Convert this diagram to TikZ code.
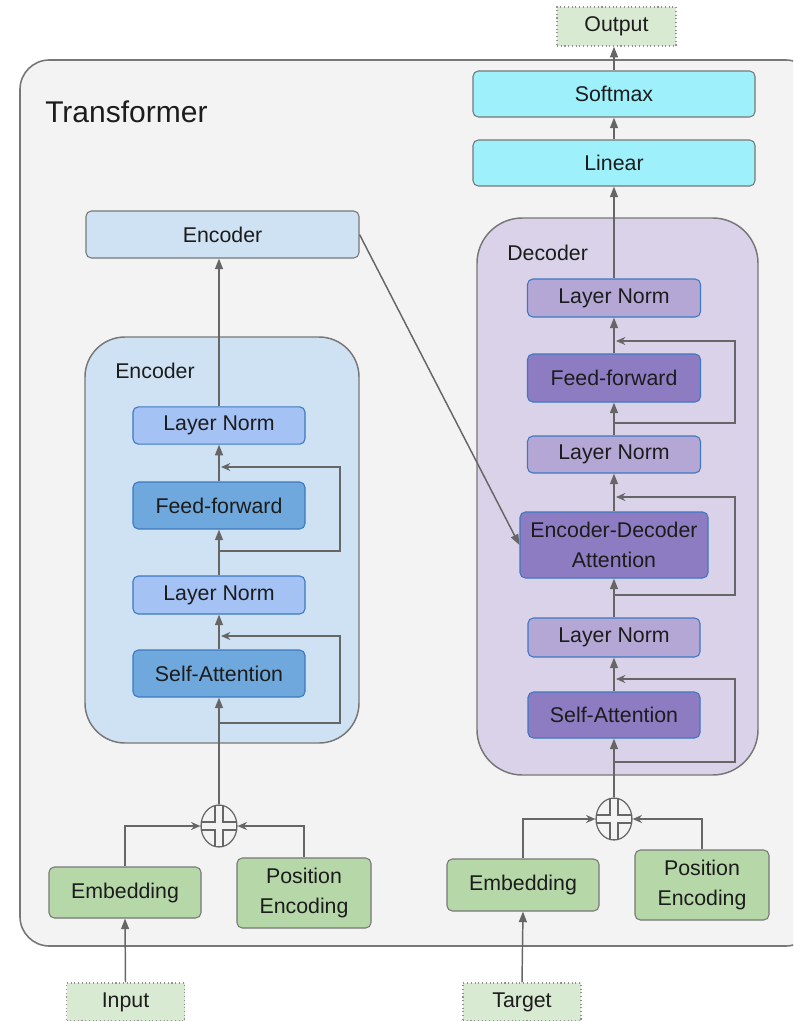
\documentclass[tikz,border=0pt]{standalone}
\usepackage{fontspec}
\setmainfont{Liberation Sans}
\usetikzlibrary{arrows.meta,calc,shapes.geometric}
\definecolor{bgl}{HTML}{F3F3F3}
\definecolor{frame}{HTML}{777777}
\definecolor{arrc}{HTML}{666666}
\definecolor{txt}{HTML}{1C1C1C}
\definecolor{blue3}{HTML}{CFE2F3}
\definecolor{blue2}{HTML}{A4C2F4}
\definecolor{blue1}{HTML}{6FA8DC}
\definecolor{lborder}{HTML}{3D78C0}
\definecolor{purp3}{HTML}{D9D2E9}
\definecolor{purp2}{HTML}{B4A7D6}
\definecolor{purp1}{HTML}{8E7CC3}
\definecolor{cyanl}{HTML}{9EF1FA}
\definecolor{green2}{HTML}{B6D7A8}
\definecolor{green3}{HTML}{D9EAD3}
\begin{document}
\begin{tikzpicture}[x=0.75pt,y=-0.75pt,
  box/.style={rounded corners=4pt, inner sep=0pt, align=center, text=txt,
    font=\fontsize{16}{23}\selectfont, line width=0.8pt},
  graybox/.style={box, draw=frame},
  layerbox/.style={box, draw=lborder},
  dotbox/.style={box, rounded corners=0pt, draw=frame!80, dotted, line width=1pt, fill=green3},
  arr/.style={draw=arrc, line width=1.1pt, -{Triangle[length=8pt,width=6pt]}},
  arrs/.style={draw=arrc, line width=1.1pt, -{Stealth[length=7pt,width=6pt]}},
  plusc/.style={ellipse, draw=arrc, line width=0.9pt, minimum width=27pt, minimum height=31.5pt, inner sep=0pt},
  label/.style={text=txt, inner sep=0pt, font=\fontsize{16}{19}\selectfont}
]
\useasboundingbox (0,0) rectangle (793,1021);
\clip (0,0) rectangle (793,1021);

% outer transformer frame
\draw[frame, line width=1.2pt, fill=bgl, rounded corners=22pt] (20,60) rectangle (815,946);
\node[text=txt, inner sep=0pt, anchor=base west, font=\fontsize{22.5}{26}\selectfont] (title) at (45,122) {Transformer};

% encoder container
\draw[frame, line width=1.1pt, fill=blue3, rounded corners=30pt] (85,337) rectangle (359,743);
\node[label, anchor=base west] (enclab) at (115,378) {Encoder};

% decoder container
\draw[frame, line width=1.1pt, fill=purp3, rounded corners=34pt] (477,218) rectangle (758,775);
\node[label, anchor=base west] (declab) at (507,260) {Decoder};

% top encoder box
\node[graybox, fill=blue3, minimum width=204.75pt, minimum height=35.25pt] (encbox) at (222.5,234.5) {Encoder};

% encoder layers
\node[layerbox, fill=blue2, minimum width=129pt, minimum height=28pt] (eln1) at (219,425.5) {Layer Norm};
\node[layerbox, fill=blue1, minimum width=129pt, minimum height=35.25pt] (eff) at (219,505.5) {Feed-forward};
\node[layerbox, fill=blue2, minimum width=129pt, minimum height=28.5pt] (eln2) at (219,595) {Layer Norm};
\node[layerbox, fill=blue1, minimum width=129pt, minimum height=35.25pt] (esa) at (219,673.5) {Self-Attention};

% decoder side
\node[dotbox, minimum width=89.25pt, minimum height=29.25pt] (out) at (616.5,26.5) {Output};
\node[graybox, fill=cyanl, minimum width=211.5pt, minimum height=34.5pt] (soft) at (614,94) {Softmax};
\node[graybox, fill=cyanl, minimum width=211.5pt, minimum height=34.5pt] (lin) at (614,163) {Linear};

\node[layerbox, fill=purp2, minimum width=129.75pt, minimum height=28.5pt] (dln1) at (614,298) {Layer Norm};
\node[layerbox, fill=purp1, minimum width=129.75pt, minimum height=36pt] (dff) at (614,378) {Feed-forward};
\node[layerbox, fill=purp2, minimum width=129.75pt, minimum height=27.75pt] (dln2) at (614,454.5) {Layer Norm};
\node[layerbox, fill=purp1, minimum width=141pt, minimum height=49.5pt] (eda) at (614,545) {Encoder-Decoder\\Attention};
\node[layerbox, fill=purp2, minimum width=129pt, minimum height=29.25pt] (dln3) at (614,637.5) {Layer Norm};
\node[layerbox, fill=purp1, minimum width=129pt, minimum height=34.5pt] (dsa) at (614,715) {Self-Attention};

% inputs
\node[graybox, fill=green2, minimum width=114pt, minimum height=38.25pt] (eemb) at (125,892.5) {Embedding};
\node[graybox, fill=green2, minimum width=100.5pt, minimum height=52.5pt] (epe) at (304,893) {Position\\Encoding};
\node[dotbox, minimum width=88.5pt, minimum height=28.5pt] (inp) at (125.5,1002) {Input};

\node[graybox, fill=green2, minimum width=114pt, minimum height=39pt] (demb) at (523,885) {Embedding};
\node[graybox, fill=green2, minimum width=100.5pt, minimum height=52.5pt] (dpe) at (702,885) {Position\\Encoding};
\node[dotbox, minimum width=88.5pt, minimum height=28.5pt] (tgt) at (522,1002) {Target};

% plus circles
\node[plusc] (eplus) at (219,826) {};
\node[plusc] (dplus) at (614,819) {};
\foreach \c in {eplus,dplus}{
  \begin{scope}[shift={(\c.center)}]
    \draw[arrc, line width=0.8pt] (4,-20.5) -- (4,-4) -- (17.7,-4) -- (17.7,4) -- (4,4) -- (4,20.5)
      -- (-4,20.5) -- (-4,4) -- (-17.7,4) -- (-17.7,-4) -- (-4,-4) -- (-4,-20.5) -- cycle;
  \end{scope}
}

% encoder connectors
\draw[arr] (inp.north) -- (eemb.south);
\draw[arrs] (eemb.north) |- (eplus.west);
\draw[arrs] (epe.north) |- (eplus.east);
\draw[arr] (eplus.north) -- (esa.south);
\draw[arr] (esa.north) -- (eln2.south);
\draw[arr] (eln2.north) -- (eff.south);
\draw[arr] (eff.north) -- (eln1.south);
\draw[arr] (eln1.north) -- (encbox.south -| eln1.north);

\coordinate (er1s) at (219,723);
\coordinate (er1c) at (340,636);
\coordinate (er1e) at (221,636);
\draw[arrs] (er1s) -| (er1c) -- (er1e);
\coordinate (er2s) at (219,551);
\coordinate (er2c) at (340,467);
\coordinate (er2e) at (221,467);
\draw[arrs] (er2s) -| (er2c) -- (er2e);

% encoder to decoder
\draw[arr] (encbox.east) -- (eda.west);

% decoder connectors
\draw[arr] (tgt.north) -- (demb.south);
\draw[arrs] (demb.north) |- (dplus.west);
\draw[arrs] (dpe.north) |- (dplus.east);
\draw[arr] (dplus.north) -- (dsa.south);
\draw[arr] (dsa.north) -- (dln3.south);
\draw[arr] (dln3.north) -- (eda.south);
\draw[arr] (eda.north) -- (dln2.south);
\draw[arr] (dln2.north) -- (dff.south);
\draw[arr] (dff.north) -- (dln1.south);
\draw[arr] (dln1.north) -- (lin.south);
\draw[arr] (lin.north) -- (soft.south);
\draw[arr] (soft.north) -- (out.south -| soft.north);

\coordinate (dr1s) at (614,762);
\coordinate (dr1c) at (735,679);
\coordinate (dr1e) at (616,679);
\draw[arrs] (dr1s) -| (dr1c) -- (dr1e);
\coordinate (dr2s) at (614,595);
\coordinate (dr2c) at (735,497);
\coordinate (dr2e) at (616,497);
\draw[arrs] (dr2s) -| (dr2c) -- (dr2e);
\coordinate (dr3s) at (614,423);
\coordinate (dr3c) at (735,341);
\coordinate (dr3e) at (616,341);
\draw[arrs] (dr3s) -| (dr3c) -- (dr3e);
\end{tikzpicture}
\end{document}
